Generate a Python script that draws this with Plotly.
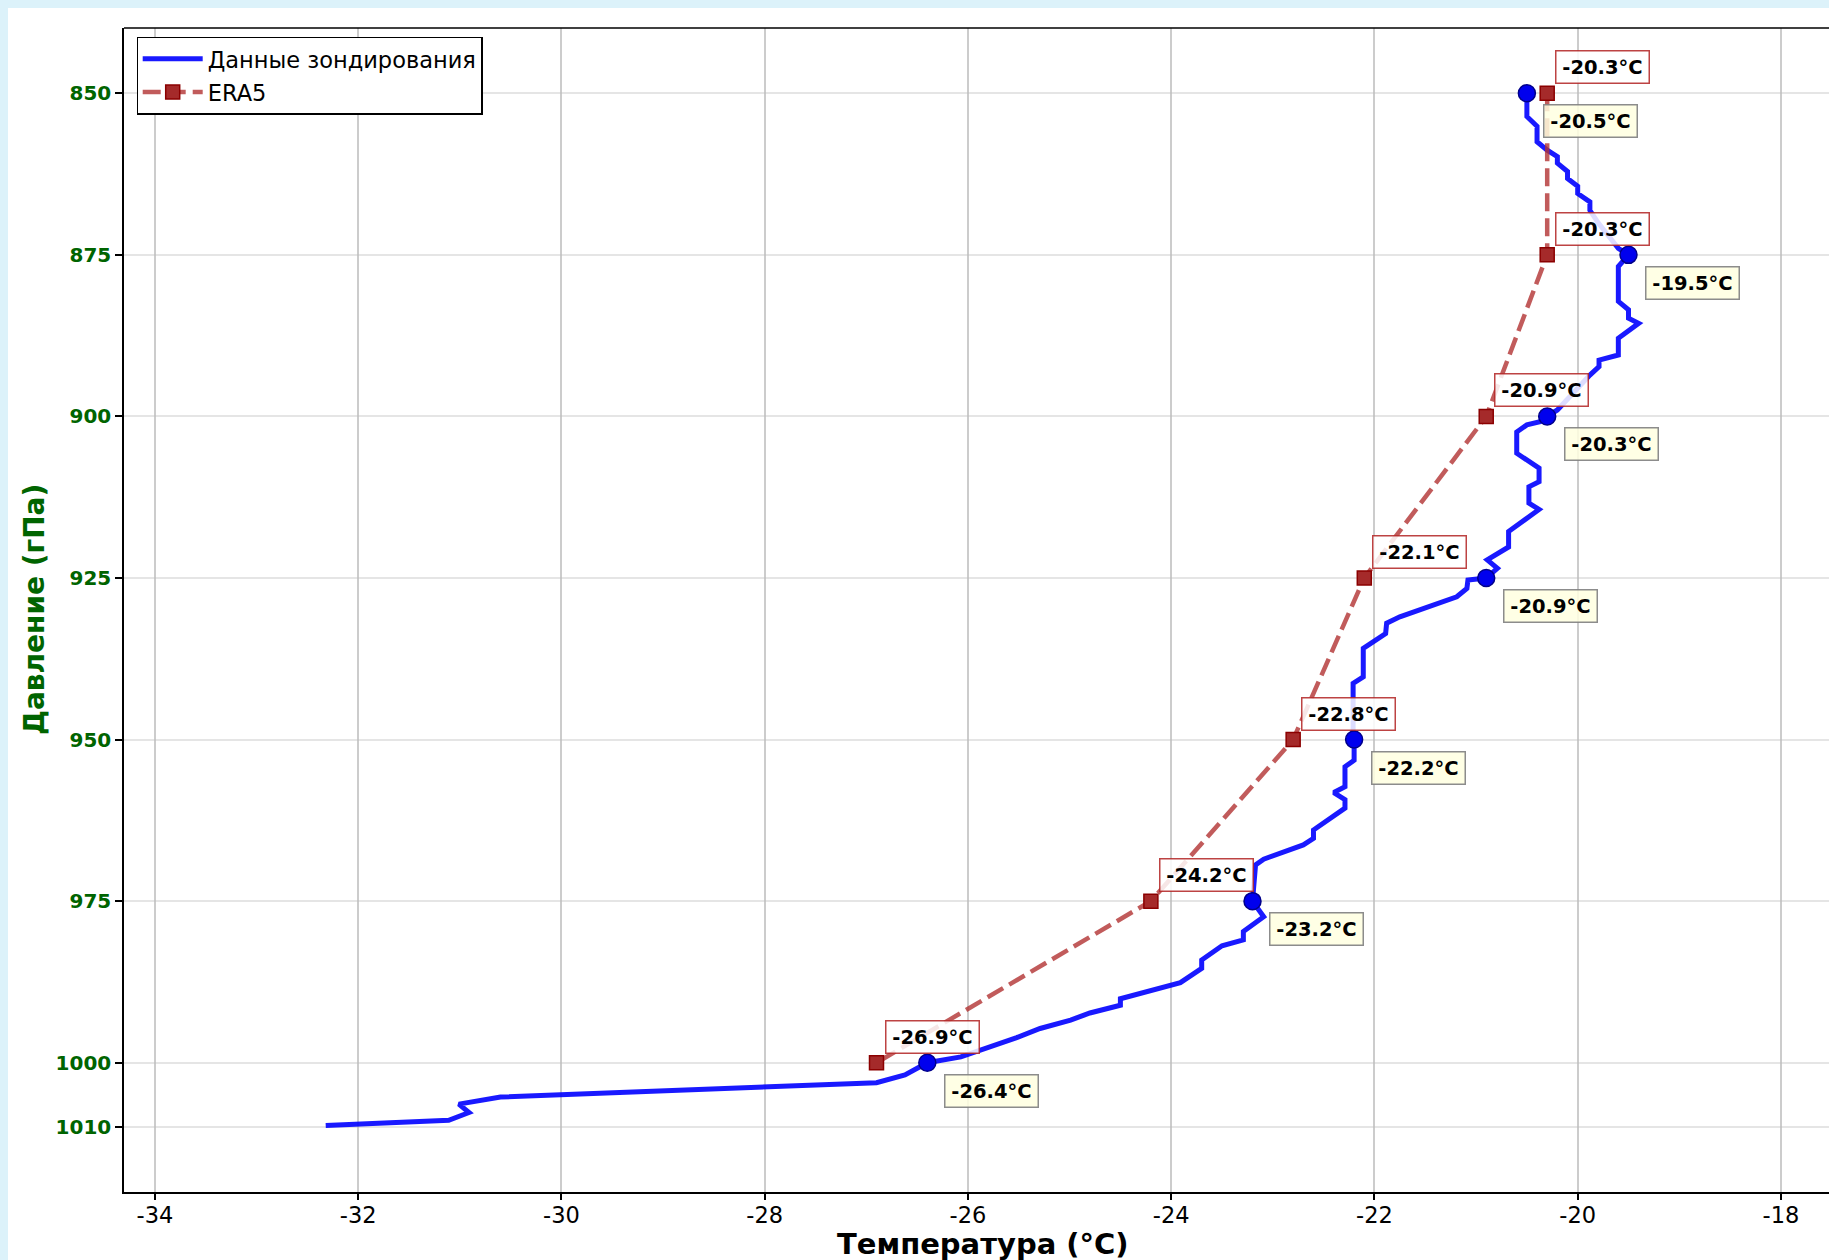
import plotly.graph_objects as go

# ---------------- data ----------------
# Sounding profile (pressure hPa, temperature °C)
snd_p = [850.0, 853.6, 855.1, 857.5, 858.8, 859.8, 860.8, 862.1, 863.2, 864.4, 865.5,
         866.8, 868.1, 870.0, 872.0, 874.0, 875.0, 876.8, 882.2, 883.5, 884.8, 885.6,
         887.9, 890.5, 891.3, 892.3, 893.6, 899.0, 900.0, 900.8, 901.3, 902.4, 905.7,
         908.0, 910.1, 910.9, 913.4, 914.4, 917.8, 920.2, 922.2, 923.5, 925.0, 925.3,
         926.6, 927.9, 931.0, 932.0, 933.6, 935.9, 940.3, 941.3, 949.8, 950.0, 953.2,
         954.2, 957.3, 958.2, 959.3, 960.6, 964.0, 965.3, 966.3, 968.5, 969.4, 975.0,
         977.4, 979.7, 981.0, 981.9, 984.1, 985.4, 987.6, 990.1, 991.1, 992.3, 993.4,
         994.7, 996.1, 999.1, 1000.0, 1001.9, 1003.1, 1005.3, 1006.4, 1007.7, 1008.9,
         1009.7]
snd_t = [-20.50, -20.50, -20.40, -20.40, -20.30, -20.20, -20.20, -20.10, -20.10, -20.00, -20.00,
         -19.88, -19.88, -19.80, -19.70, -19.60, -19.50, -19.60, -19.60, -19.50, -19.50, -19.40,
         -19.60, -19.60, -19.79, -19.79, -19.88, -20.20, -20.30, -20.37, -20.50, -20.60, -20.60,
         -20.38, -20.38, -20.48, -20.48, -20.38, -20.68, -20.68, -20.89, -20.79, -20.90, -21.08,
         -21.09, -21.19, -21.75, -21.88, -21.89, -22.11, -22.11, -22.21, -22.21, -22.20, -22.20,
         -22.29, -22.29, -22.40, -22.29, -22.29, -22.60, -22.60, -22.70, -23.09, -23.17, -23.20,
         -23.09, -23.29, -23.29, -23.50, -23.70, -23.70, -23.91, -24.50, -24.50, -24.80, -24.99,
         -25.29, -25.52, -26.07, -26.40, -26.62, -26.90, -30.60, -31.01, -30.91, -31.11,
         -32.32]

# Standard levels
levels = [850, 875, 900, 925, 950, 975, 1000]
snd_level_t = [-20.5, -19.5, -20.3, -20.9, -22.2, -23.2, -26.4]
era5_t = [-20.3, -20.3, -20.9, -22.1, -22.8, -24.2, -26.9]

x_ticks = [-34, -32, -30, -28, -26, -24, -22, -20, -18]
y_ticks = [850, 875, 900, 925, 950, 975, 1000, 1010]

x_title = "Температура (°C)"
y_title = "Давление (гПа)"
name_snd = "Данные зондирования"
name_era = "ERA5"

# ---------------- figure ----------------
# page has an 8px body margin (top/left); figure fills the rest of the 1829x1260 window
W, H = 1821, 1252
ML, MR, MT, MB = 116, 0, 20, 68
PW = W - ML - MR
PH = H - MT - MB

fig = go.Figure()

fig.add_trace(go.Scatter(
    x=snd_t, y=snd_p, mode="lines", name=name_snd, legendgroup="a",
    line=dict(color="rgba(0,0,255,0.9)", width=5),
))
fig.add_trace(go.Scatter(
    x=snd_level_t, y=levels, mode="markers", showlegend=False, legendgroup="a",
    marker=dict(symbol="circle", size=17, color="#0000EE",
                line=dict(color="#00008B", width=1.5)),
))
fig.add_trace(go.Scatter(
    x=era5_t, y=levels, mode="lines+markers", name=name_era, legendgroup="b",
    line=dict(color="rgba(178,50,50,0.8)", width=4.5, dash="18px,7px"),
    marker=dict(symbol="square", size=14, color="#A52A2A",
                line=dict(color="#8B0000", width=1.5)),
))

annotations = []
for p, t in zip(levels, era5_t):
    annotations.append(dict(
        x=t, y=p, xref="x", yref="y", text=f"<b>{t:.1f}°C</b>",
        showarrow=False, xshift=55.5, yshift=26,
        xanchor="center", yanchor="middle",
        font=dict(family="DejaVu Sans", size=19.5, color="black"),
        bgcolor="rgba(255,255,255,0.85)", bordercolor="rgba(178,34,34,0.85)",
        borderwidth=1.5, borderpad=4, width=84, height=23,
    ))
for p, t in zip(levels, snd_level_t):
    annotations.append(dict(
        x=t, y=p, xref="x", yref="y", text=f"<b>{t:.1f}°C</b>",
        showarrow=False, xshift=64, yshift=-28,
        xanchor="center", yanchor="middle",
        font=dict(family="DejaVu Sans", size=19.5, color="black"),
        bgcolor="rgba(255,255,224,0.85)", bordercolor="rgba(128,128,128,0.9)",
        borderwidth=1.5, borderpad=4, width=84, height=23,
    ))

# axis titles
annotations.append(dict(
    x=(974.5 - ML) / PW, y=(MT + PH - 1235.5) / PH, xref="paper", yref="paper",
    text=f"<b>{x_title}</b>", showarrow=False, xanchor="center", yanchor="middle",
    font=dict(family="DejaVu Sans", size=29, color="black"),
))
annotations.append(dict(
    x=(26 - ML) / PW, y=0.5, xref="paper", yref="paper", textangle=-90,
    text=f"<b>{y_title}</b>", showarrow=False, xanchor="center", yanchor="middle",
    font=dict(family="DejaVu Sans", size=28, color="#006400"),
))

shapes = [
    # top frame line
    dict(type="line", xref="paper", yref="paper", x0=0, x1=1, y0=1, y1=1,
         line=dict(color="black", width=1.5), layer="above"),
]

fig.update_layout(
    width=W, height=H,
    margin=dict(l=ML, r=MR, t=MT, b=MB),
    paper_bgcolor="white",
    plot_bgcolor="white",
    font=dict(family="DejaVu Sans", color="black"),
    annotations=annotations,
    shapes=shapes,
    legend=dict(
        x=(128.5 - ML) / PW, y=1 - (28.5 - MT) / PH, xanchor="left", yanchor="top",
        bgcolor="white", bordercolor="black", borderwidth=1.2,
        font=dict(family="DejaVu Sans", size=22.5, color="black"),
        tracegroupgap=1, itemwidth=60,
    ),
    showlegend=True,
)

fig.update_xaxes(
    range=[-34.305, -17.527], tickvals=x_ticks, ticktext=[str(v) for v in x_ticks],
    showgrid=True, gridcolor="rgba(128,128,128,0.4)", gridwidth=1.5,
    showline=True, linecolor="black", linewidth=1.5,
    ticks="outside", ticklen=6, tickwidth=2, tickcolor="black",
    ticklabelstandoff=-4,
    tickfont=dict(family="DejaVu Sans", size=22.5, color="black"),
    zeroline=False,
)
fig.update_yaxes(
    range=[1020.0, 839.9], tickvals=y_ticks, ticktext=[str(v) for v in y_ticks],
    showgrid=True, gridcolor="rgba(190,190,190,0.4)", gridwidth=1.5,
    showline=True, linecolor="black", linewidth=1.5,
    ticks="outside", ticklen=7, tickwidth=2, tickcolor="black",
    tickfont=dict(family="DejaVu Sans", size=20, color="#006400", weight="bold"),
    zeroline=False,
)

post = ("document.body.style.background='rgb(220,242,250)';"
        "document.documentElement.style.background='rgb(220,242,250)';"
        "document.body.style.margin='8px 0px 0px 8px';"
        "document.body.style.overflow='hidden';")
fig.write_html("out.html", post_script=post)
